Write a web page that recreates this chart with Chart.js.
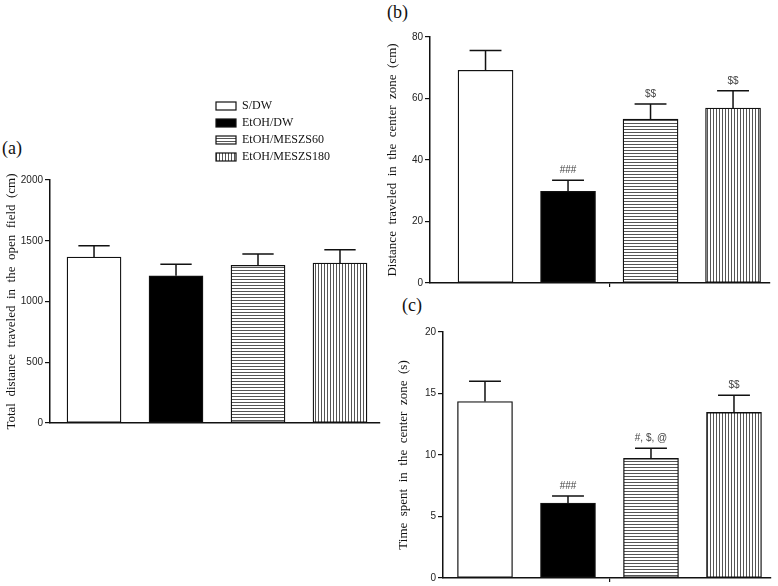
<!DOCTYPE html>
<html>
<head>
<meta charset="utf-8">
<script src="https://cdn.jsdelivr.net/npm/chart.js@4.4.1/dist/chart.umd.min.js"></script>
<style>
body { margin: 0; background: #fff; width: 778px; height: 586px; position: relative; overflow: hidden; }
.box { position: absolute; }
.lab { position: absolute; font: 18px 'Liberation Serif', serif; color: #111; line-height: 1; }
</style>
</head>
<body>
<div class="lab" style="left:2px;top:139px">(a)</div>
<div class="lab" style="left:387px;top:3px">(b)</div>
<div class="lab" style="left:402px;top:296px">(c)</div>
<div class="box" style="left:0;top:90px;width:385px;height:350px"><canvas id="chartA"></canvas></div>
<div class="box" style="left:380px;top:0;width:398px;height:300px"><canvas id="chartB"></canvas></div>
<div class="box" style="left:380px;top:290px;width:398px;height:296px"><canvas id="chartC"></canvas></div>
<script>
// groups (same order in every panel)
const groups = ['S/DW', 'EtOH/DW', 'EtOH/MESZS60', 'EtOH/MESZS180'];

// (a) total distance in the open field (cm)
const totalDist = [1366, 1212, 1298, 1317];
const totalDistErr = [93, 94, 93, 109];

// (b) distance in the center zone (cm)
const centerDist = [69.2, 29.8, 53.3, 56.9];
const centerDistErr = [6.4, 3.6, 4.9, 5.6];
const centerDistMarks = ['', '###', '$$', '$$'];

// (c) time spent in the center zone (s)
const centerTime = [14.35, 6.1, 9.72, 13.46];
const centerTimeErr = [1.65, 0.57, 0.83, 1.4];
const centerTimeMarks = ['', '###', '#, $, @', '$$'];

// y axis ranges
const yRangeA = [0, 2000, 500];
const yRangeB = [0, 80, 20];
const yRangeC = [0, 20, 5];

const tickFont = { family: "'Liberation Sans Narrow', 'Liberation Sans', sans-serif", size: 10 };
const titleFont = { family: "'Liberation Serif', serif", size: 13 };

// striped fills like the original figure
function stripes(dir) {
    const c = document.createElement('canvas');
    c.width = 3; c.height = 3;
    const g = c.getContext('2d');
    g.fillStyle = '#fff';
    g.fillRect(0, 0, 3, 3);
    g.fillStyle = '#555';
    if (dir === 'h') g.fillRect(0, 0, 3, 1);
    else g.fillRect(0, 0, 1, 3);
    return g.createPattern(c, 'repeat');
}
const fills = ['#ffffff', '#000000', stripes('h'), stripes('v')];

// error bars (upper half only) + significance marks
const errorBars = {
    id: 'errorBars',
    afterDatasetsDraw(chart, args, opts) {
        const ctx = chart.ctx;
        const y = chart.scales.y;
        const meta = chart.getDatasetMeta(0);
        ctx.save();
        ctx.strokeStyle = '#111';
        ctx.lineWidth = 1.5;
        meta.data.forEach((bar, i) => {
            const top = y.getPixelForValue(opts.means[i] + opts.errors[i]);
            const half = bar.width * 0.29;
            ctx.beginPath();
            ctx.moveTo(bar.x, bar.y);
            ctx.lineTo(bar.x, top);
            ctx.moveTo(bar.x - half, top);
            ctx.lineTo(bar.x + half, top);
            ctx.stroke();
            if (opts.marks && opts.marks[i]) {
                ctx.fillStyle = '#444';
                ctx.font = "10px 'Liberation Sans Narrow', 'Liberation Sans', sans-serif";
                ctx.textAlign = 'center';
                ctx.textBaseline = 'alphabetic';
                ctx.fillText(opts.marks[i], bar.x, top - 7);
            }
        });
        ctx.restore();
    }
};

// legend block of panel (a)
const groupLegend = {
    id: 'groupLegend',
    afterDraw(chart, args, opts) {
        if (!opts.show) return;
        const ctx = chart.ctx;
        ctx.save();
        ctx.font = "12px 'Liberation Serif', serif";
        ctx.textBaseline = 'middle';
        groups.forEach((name, i) => {
            const cy = 16 + i * 17;
            ctx.fillStyle = fills[i];
            ctx.fillRect(216, cy - 4, 20, 8);
            ctx.strokeStyle = '#111';
            ctx.lineWidth = 1.2;
            ctx.strokeRect(216, cy - 4, 20, 8);
            ctx.fillStyle = '#111';
            ctx.fillText(name, 242, cy);
        });
        ctx.restore();
    }
};

function makeChart(id, values, errs, marks, range, title, cfg) {
    const ctx = document.getElementById(id).getContext('2d');
    return new Chart(ctx, {
        type: 'bar',
        data: {
            datasets: [{
                data: values.map((v, i) => ({ x: i, y: v })),
                backgroundColor: fills,
                borderColor: '#111',
                borderWidth: 1.3,
                borderSkipped: false,
                barThickness: cfg.barWidth
            }]
        },
        options: {
            responsive: true,
            maintainAspectRatio: false,
            animation: false,
            layout: { padding: cfg.padding },
            scales: {
                x: {
                    type: 'linear',
                    offset: false,
                    min: cfg.xMin,
                    max: cfg.xMax,
                    afterBuildTicks: s => { s.ticks = [{ value: 1.5 }]; },
                    afterFit: s => { s.height = 0; },
                    ticks: { display: false },
                    grid: { display: cfg.midTick, offset: false, drawOnChartArea: false, tickLength: 4, color: '#111', lineWidth: 1.2 },
                    border: { color: '#111', width: 1.5 }
                },
                y: {
                    min: range[0],
                    max: range[1],
                    ticks: { stepSize: range[2], font: tickFont, color: '#222', padding: 2, callback: v => String(v) },
                    afterFit: s => { s.width = cfg.yWidth; },
                    grid: { drawOnChartArea: false, tickLength: 5, color: '#111', lineWidth: 1.2 },
                    border: { color: '#111', width: 1.5 },
                    title: { display: true, text: title, font: titleFont, color: '#111', padding: { top: cfg.titlePad, bottom: 0 } }
                }
            },
            plugins: {
                legend: { display: false },
                tooltip: { enabled: false },
                errorBars: { means: values, errors: errs, marks: marks },
                groupLegend: { show: !!cfg.legend }
            }
        },
        plugins: [errorBars, groupLegend]
    });
}

makeChart('chartA', totalDist, totalDistErr, null, yRangeA,
    'Total  distance  traveled  in  the  open  field  (cm)',
    { padding: { top: 90, bottom: 17, left: 0, right: 5 }, yWidth: 50, xMin: -0.537, xMax: 3.488,
      barWidth: 54, midTick: false, titlePad: 4, legend: true });

makeChart('chartB', centerDist, centerDistErr, centerDistMarks, yRangeB,
    'Distance  traveled  in  the  center  zone  (cm)',
    { padding: { top: 37, bottom: 17, left: 0, right: 8 }, yWidth: 50, xMin: -0.673, xMax: 3.448,
      barWidth: 55, midTick: true, titlePad: 5 });

makeChart('chartC', centerTime, centerTimeErr, centerTimeMarks, yRangeC,
    'Time  spent  in  the  center  zone  (s)',
    { padding: { top: 42, bottom: 7, left: 0, right: 7 }, yWidth: 63, xMin: -0.506, xMax: 3.446,
      barWidth: 55, midTick: true, titlePad: 16 });
</script>
</body>
</html>
